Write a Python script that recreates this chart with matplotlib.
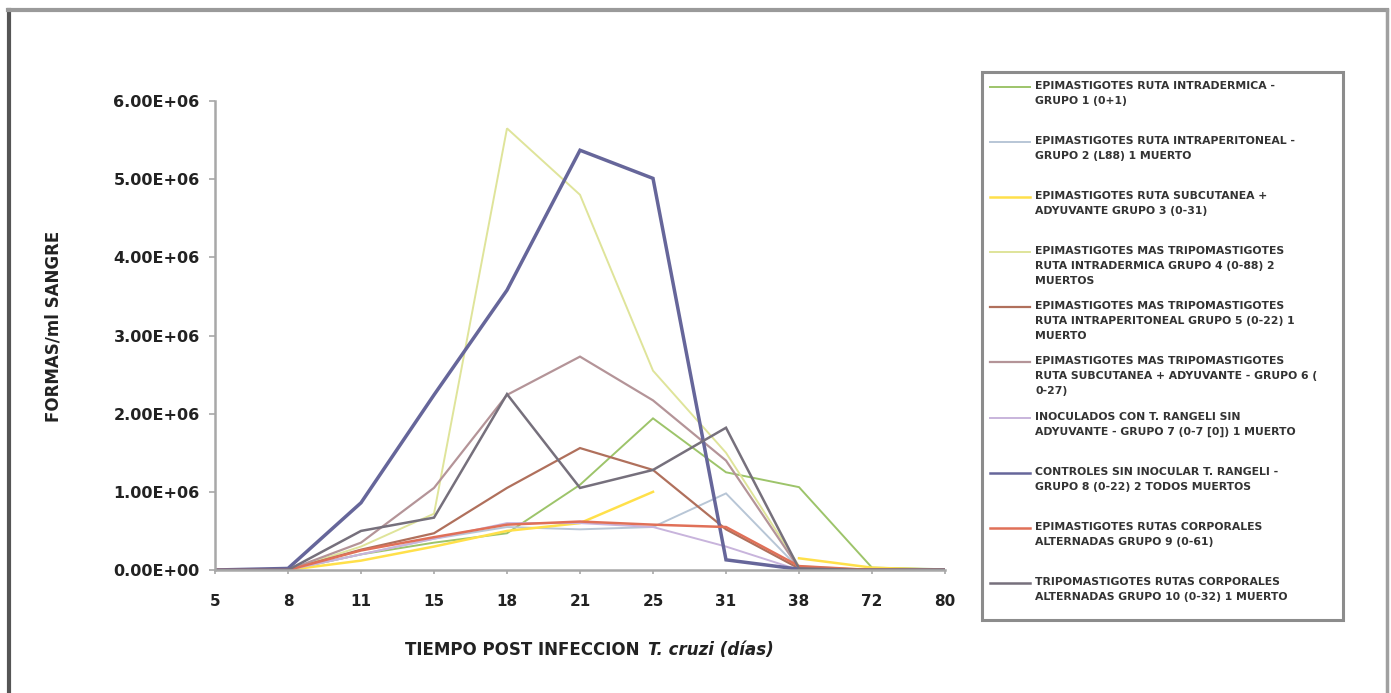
import numpy as np
import matplotlib
matplotlib.use("Agg")
import matplotlib.pyplot as plt
from matplotlib.lines import Line2D
from matplotlib.patches import Rectangle

W, H = 1391, 693

# days post infection (category axis)
dias = ["5", "8", "11", "15", "18", "21", "25", "31", "38", "72", "80"]

# parasitaemia, forms/ml blood (x 1e6)
g1 = [0.0, 0.0, 0.20, 0.35, 0.47, 1.09, 1.94, 1.25, 1.06, 0.03, 0.01]
g2 = [0.0, 0.0, 0.20, 0.40, 0.55, 0.52, 0.55, 0.98, 0.02, 0.0, 0.0]
g3 = [0.0, 0.0, 0.12, 0.30, 0.50, 0.60, 1.00, np.nan, 0.15, 0.03, 0.0]
g4 = [0.0, 0.0, 0.30, 0.72, 5.65, 4.80, 2.55, 1.50, 0.05, 0.0, 0.0]
g5 = [0.0, 0.0, 0.26, 0.47, 1.05, 1.56, 1.28, 0.52, 0.02, 0.0, 0.0]
g6 = [0.0, 0.0, 0.35, 1.05, 2.24, 2.73, 2.17, 1.40, 0.02, 0.0, 0.0]
g7 = [0.0, 0.0, 0.20, 0.40, 0.60, 0.60, 0.55, 0.30, 0.0, 0.0, 0.0]
g8 = [0.0, 0.02, 0.86, 2.24, 3.58, 5.37, 5.01, 0.13, 0.01, 0.0, 0.0]
g9 = [0.0, 0.0, 0.25, 0.42, 0.58, 0.62, 0.58, 0.55, 0.05, 0.0, 0.0]
g10 = [0.0, 0.0, 0.50, 0.67, 2.25, 1.05, 1.28, 1.82, 0.02, 0.0, 0.0]

etiquetas = [
    "EPIMASTIGOTES RUTA INTRADERMICA -\nGRUPO 1 (0+1)",
    "EPIMASTIGOTES RUTA INTRAPERITONEAL -\nGRUPO 2 (L88) 1 MUERTO",
    "EPIMASTIGOTES RUTA SUBCUTANEA +\nADYUVANTE GRUPO 3 (0-31)",
    "EPIMASTIGOTES MAS TRIPOMASTIGOTES\nRUTA INTRADERMICA GRUPO 4 (0-88) 2\nMUERTOS",
    "EPIMASTIGOTES MAS TRIPOMASTIGOTES\nRUTA INTRAPERITONEAL GRUPO 5 (0-22) 1\nMUERTO",
    "EPIMASTIGOTES MAS TRIPOMASTIGOTES\nRUTA SUBCUTANEA + ADYUVANTE - GRUPO 6 (\n0-27)",
    "INOCULADOS CON T. RANGELI SIN\nADYUVANTE - GRUPO 7 (0-7 [0]) 1 MUERTO",
    "CONTROLES SIN INOCULAR T. RANGELI -\nGRUPO 8 (0-22) 2 TODOS MUERTOS",
    "EPIMASTIGOTES RUTAS CORPORALES\nALTERNADAS GRUPO 9 (0-61)",
    "TRIPOMASTIGOTES RUTAS CORPORALES\nALTERNADAS GRUPO 10 (0-32) 1 MUERTO",
]
series = [g1, g2, g3, g4, g5, g6, g7, g8, g9, g10]
colores = ["#9dc46a", "#b8c6d6", "#ffe04a", "#dfe49a", "#b0705c",
           "#b49498", "#c8b4dc", "#66669a", "#e07058", "#76707c"]
grosores = [1.4, 1.4, 1.8, 1.4, 1.6, 1.6, 1.4, 2.5, 1.8, 1.8]


def px(x, y):
    return x / W, 1 - y / H


plt.rcParams["font.family"] = "DejaVu Sans"
fig = plt.figure(figsize=(W / 100, H / 100), dpi=100)

x0, y0 = px(215, 570)
x1, y1 = px(945, 101)
ax = fig.add_axes([x0, y0, x1 - x0, y1 - y0])

xs = np.arange(len(dias))
for vals, c, lw in zip(series, colores, grosores):
    ax.plot(xs, np.array(vals) * 1e6, color=c, lw=lw, solid_joinstyle="miter")

ax.set_xlim(0, len(dias) - 1)
ax.set_ylim(0, 6e6)
ax.set_xticks(xs)
ax.set_xticklabels(dias, fontsize=11, fontweight="bold", color="#222222")
yt = np.arange(0, 7) * 1e6
ax.set_yticks(yt)
ax.set_yticklabels([f"{v:.2E}" for v in yt], fontsize=11.5,
                   fontweight="bold", color="#222222")
for s in ("top", "right"):
    ax.spines[s].set_visible(False)
for s in ("left", "bottom"):
    ax.spines[s].set_color("#a8a8a8")
    ax.spines[s].set_linewidth(1.8)
ax.tick_params(axis="y", length=4, width=1.2, color="#a8a8a8", pad=7)
ax.tick_params(axis="x", length=3, width=1.2, color="#a8a8a8", pad=14)

ax.set_ylabel("FORMAS/ml SANGRE", fontsize=12, fontweight="bold",
              color="#222222")
ax.yaxis.set_label_coords((63 - 215) / (945 - 215), 0.52)

fig.text(*px(645, 650), "TIEMPO POST INFECCION ", ha="right", va="center",
         fontsize=12, fontweight="bold", color="#222222")
fig.text(*px(648, 650), "T. cruzi (días)", ha="left", va="center",
         fontsize=12, fontweight="bold", fontstyle="italic", color="#222222")

# legend box
lx0, ly0 = px(982, 620)
lx1, ly1 = px(1343, 72)
fig.patches.append(Rectangle((lx0, ly0), lx1 - lx0, ly1 - ly0,
                             transform=fig.transFigure, fill=False,
                             edgecolor="#8c8c8c", lw=2.2))
for i, (lab, c, lw) in enumerate(zip(etiquetas, colores, grosores)):
    yy = 87 + i * 55.1
    fig.lines.append(Line2D([px(990, 0)[0], px(1030, 0)[0]],
                            [px(0, yy)[1]] * 2, transform=fig.transFigure,
                            color=c, lw=min(lw, 1.8)))
    fig.text(*px(1035, yy - 6), lab, ha="left", va="top", fontsize=7.8,
             fontweight="bold", color="#333333", linespacing=1.6)

# outer frame of the pasted image
fig.lines.append(Line2D([px(9, 0)[0]] * 2, [px(0, 10)[1], 0],
                        transform=fig.transFigure, color="#555555", lw=3))
fig.lines.append(Line2D([px(8, 0)[0], px(1387, 0)[0]], [px(0, 10)[1]] * 2,
                        transform=fig.transFigure, color="#9a9a9a", lw=3))
fig.lines.append(Line2D([px(1387, 0)[0]] * 2, [px(0, 10)[1], 0],
                        transform=fig.transFigure, color="#a0a0a0", lw=2.5))

fig.savefig("out.png", dpi=100)
